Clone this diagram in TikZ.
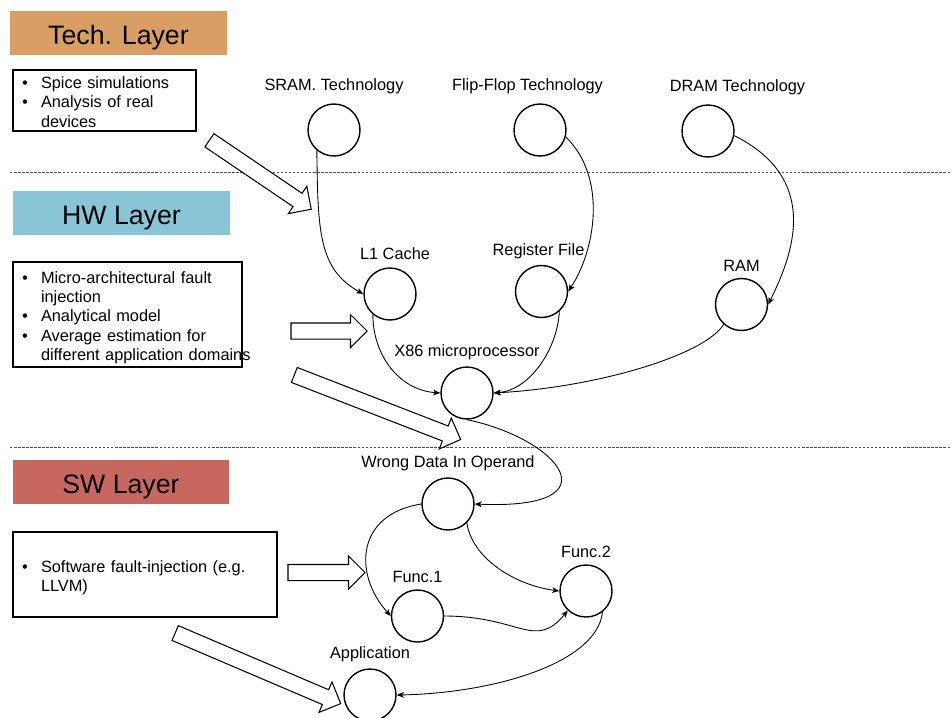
\documentclass[tikz,border=0pt]{standalone}
\usepackage{fontspec}
\setmainfont{Liberation Sans}
\usepackage{tikz}
\usetikzlibrary{shapes.geometric,shapes.arrows,arrows.meta}
\definecolor{techcol}{RGB}{217,158,99}
\definecolor{hwcol}{RGB}{138,196,215}
\definecolor{swcol}{RGB}{200,102,96}
\newenvironment{bullets}{\noindent\begin{tabular}{@{\hspace{0.18cm}}p{0.38cm}@{}l@{}}}{\end{tabular}\par\kern-0.14cm}
\tikzstyle{layer} = [rectangle, minimum width=4.34cm, minimum height=0.88cm, text height=0.46cm, text depth=0cm, text centered, font=\fontsize{15.2}{18}\selectfont]
\tikzstyle{notes} = [rectangle, draw=black, line width=0.6pt, inner xsep=0pt, inner ysep=0pt, align=left]
\tikzstyle{unit} = [circle, draw=black, line width=0.8pt, minimum size=1.04cm, inner sep=0pt]
\tikzstyle{arrow} = [line width=0.5pt, ->, >={Stealth[length=4pt, width=3.2pt, inset=1pt]}]
\tikzstyle{bigarrow} = [single arrow, draw=black, fill=white, line width=0.6pt, inner xsep=0pt, inner ysep=0.15cm, single arrow head extend=0.17cm, single arrow tip angle=90]
\tikzstyle{divider} = [dash pattern=on 1.4pt off 0.9pt, line width=0.5pt, black!70]

\begin{document}
\begin{tikzpicture}[x=0.02cm, y=-0.02cm, font=\fontsize{9.3}{11}\selectfont]
\useasboundingbox (0,0) rectangle (952,717);

% layers
\node(tech)[layer, fill=techcol] at (118.5,33) {Tech. Layer};
\node(hw)[layer, fill=hwcol] at (121.5,213) {HW Layer};
\node(sw)[layer, fill=swcol] at (121,482) {SW Layer};
\draw[divider] (10,172) -- (952,172);
\draw[divider] (10,447) -- (952,447);

% notes
\node(technotes)[notes, text width=3.66cm, minimum height=1.22cm] at (104.5,100.5)
  {\begin{bullets}\textbullet & Spice simulations\\ \textbullet & Analysis of real\\ & devices\end{bullets}};
\node(hwnotes)[notes, text width=4.58cm, minimum height=2.1cm] at (127.5,314.5)
  {\begin{bullets}\textbullet & Micro-architectural fault\\ & injection\\ \textbullet & Analytical model\\
   \textbullet & Average estimation for\\ & different application domains\end{bullets}};
\node(swnotes)[notes, text width=5.28cm, minimum height=1.7cm] at (145,574.5)
  {\begin{bullets}\textbullet & Software fault-injection (e.g.\\ & LLVM)\end{bullets}};

\node(techarrow)[bigarrow, minimum height=2.46cm, rotate=-34.1] at (257,172.5) {};
\node(hwarrow)[bigarrow, minimum height=1.52cm] at (325,331) {};
\node(hwarrowb)[bigarrow, minimum height=3.57cm, rotate=-21.2] at (373.75,405.75) {};
\node(swarrow)[bigarrow, minimum height=1.54cm] at (322.5,572.5) {};
\node(swarrowb)[bigarrow, minimum height=3.6cm, rotate=-23.1] at (254.25,666.75) {};

% units
\node(sram)[unit, label={[label distance=2pt]above:SRAM. Technology}] at (334,130) {};
\node(flipflop)[unit, label={[label distance=2pt, xshift=-0.25cm]above:Flip-Flop Technology}] at (540,130) {};
\node(dram)[unit, label={[label distance=2pt, xshift=0.59cm]above:DRAM Technology}] at (708,131) {};
\node(lone)[unit, label={[label distance=1pt, xshift=0.1cm]above:L1 Cache}] at (390,294) {};
\node(regfile)[unit, label={[xshift=-0.06cm]above:Register File}] at (541.5,291.5) {};
\node(ram)[unit, label=above:RAM] at (741.5,304.5) {};
\node(xcpu)[unit, label=above:X86 microprocessor] at (467,393) {};
\node(wrongdata)[unit, label=above:Wrong Data In Operand] at (448,504) {};
\node(funcone)[unit, label=above:Func.1] at (417.5,616) {};
\node(functwo)[unit, label=above:Func.2] at (586,591) {};
\node(app)[unit, label=above:Application] at (370,695) {};

\draw[arrow](sram.230) .. controls +(1,80) and +(-45,-25) .. (lone.west);
\draw[arrow](flipflop.-15) .. controls +(42,41) and +(27,-41) .. (regfile.east);
\draw[arrow](dram.-10) .. controls +(90,45) and +(22,-45) .. (ram.east);
\draw[arrow](lone.230) .. controls +(0,41) and +(-41,-3) .. (xcpu.west);
\draw[arrow](regfile.-48) .. controls +(-2,38) and +(36,-3) .. (xcpu.east);
\draw[arrow](ram.228) .. controls +(-18,30) and +(106,-6) .. (xcpu.east);
\draw[arrow](xcpu.south) .. controls +(92,19) and +(143,6) .. (wrongdata.east);
\draw[arrow](wrongdata.west) .. controls +(-65,10) and +(-38,-42) .. (funcone.west);
\draw[arrow](wrongdata.-45) .. controls +(5,35) and +(-45,-6) .. (functwo.west);
\draw[arrow](funcone.east) .. controls +(76,0) and +(-33,40) .. (functwo.227);
\draw[arrow](functwo.-52) .. controls +(-5,50) and +(100,-2) .. (app.east);
\end{tikzpicture}
\end{document}
